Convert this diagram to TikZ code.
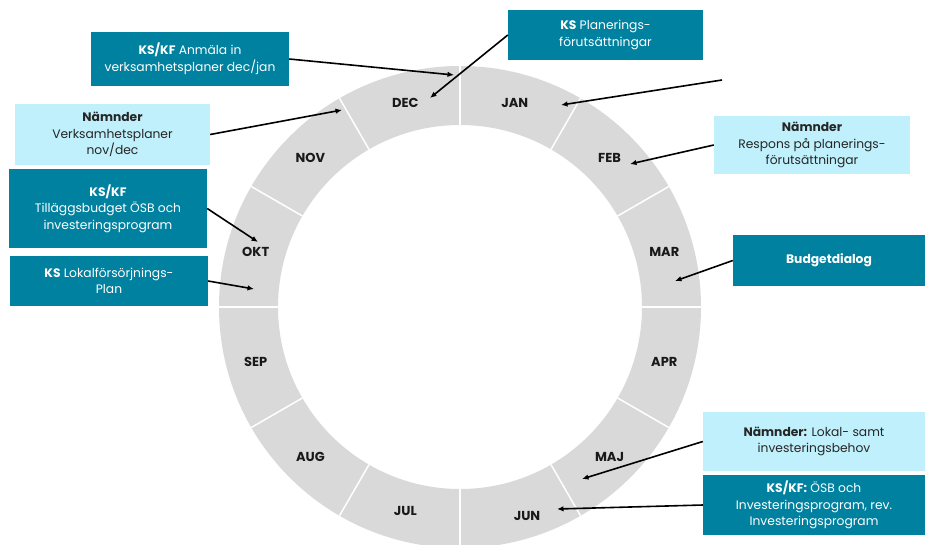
\documentclass[tikz,border=0pt]{standalone}
\usepackage{fontspec}
\setmainfont{Poppins}
\usetikzlibrary{arrows.meta,calc}
\definecolor{teal}{HTML}{00819F}
\definecolor{lightb}{HTML}{BFF0FB}
\definecolor{ringgray}{HTML}{D9D9D9}
\begin{document}
\begin{tikzpicture}[x=1pt,y=-1pt,
  darkbox/.style={fill=teal,text=white,align=center,inner sep=2pt,font=\fontsize{12.3}{16.5}\selectfont},
  lightbox/.style={fill=lightb,text=black!85,align=center,inner sep=2pt,font=\fontsize{12.3}{16.5}\selectfont},
  month/.style={font=\fontsize{13}{15}\selectfont\bfseries,text=black!90},
  conn/.style={draw=black,line width=1.6pt,-{Latex[length=6.5pt,width=5.5pt]}}]
\useasboundingbox (0,0) rectangle (925,544);
\fill[white] (0,0) rectangle (925,544);
\clip (0,0) rectangle (925,544);
\coordinate (C) at (460,307);
% ring
\fill[ringgray,even odd rule] (C) circle[radius=241pt] (C) circle[radius=182pt];
\foreach \a in {0,30,...,330}
  \draw[white,line width=1.5pt] ($(C)+(\a:182)$) -- ($(C)+(\a:241)$);
% month labels
\foreach \m [count=\i from 0] in {JAN,FEB,MAR,APR,MAJ}
  \node[month] (m\m) at ($(C)+({30*\i-75}:211.5)$) {\m};
\node[month] (mJUN) at (527,516) {JUN};
\foreach \m [count=\i from 6] in {JUL,AUG,SEP,OKT,NOV,DEC}
  \node[month] (m\m) at ($(C)+({30*\i-75}:211.5)$) {\m};
% boxes
\node[darkbox,minimum width=198pt,minimum height=54pt] (b1) at (190,59) {\textbf{KS/KF} Anmäla in\\verksamhetsplaner dec/jan};
\node[lightbox,minimum width=195pt,minimum height=61pt] (b2) at (112.5,134.5) {\textbf{Nämnder}\\Verksamhetsplaner\\nov/dec};
\node[darkbox,minimum width=198pt,minimum height=79pt] (b3) at (108,208.5) {\textbf{KS/KF}\\Tilläggsbudget ÖSB och\\investeringsprogram};
\node[darkbox,minimum width=198pt,minimum height=50pt] (b4) at (109,281) {\textbf{KS} Lokalförsörjnings-\\Plan};
\node[darkbox,minimum width=195pt,minimum height=50pt] (b5) at (605.5,35) {\textbf{KS} Planerings-\\förutsättningar};
\node[lightbox,minimum width=196pt,minimum height=58pt] (b6) at (812,145) {\textbf{Nämnder}\\Respons på planerings-\\förutsättningar};
\node[darkbox,minimum width=192pt,minimum height=51pt] (b7) at (829,260.5) {\textbf{Budgetdialog}};
\node[lightbox,minimum width=222pt,minimum height=59pt] (b8) at (814,441.5) {\textbf{Nämnder:} Lokal- samt\\investeringsbehov};
\node[darkbox,minimum width=222pt,minimum height=60pt] (b9) at (814,505) {\textbf{KS/KF:} ÖSB och\\Investeringsprogram, rev.\\Investeringsprogram};
% arrow targets
\coordinate (t1) at (454,75);
\coordinate (t2) at (342,110);
\coordinate (t3) at (258,242);
\coordinate (t4) at (254,289);
\coordinate (t5) at (430,98);
\coordinate (t6) at (630,164);
\coordinate (t7) at (675,281);
\coordinate (t8) at (582,479);
\coordinate (t9) at (557,509);
\coordinate (tj) at (561,105);
\coordinate (sj) at (722,80);
% connectors
\draw[conn] (b1.east) -- (t1);
\draw[conn] (b2.east) -- (t2);
\draw[conn] (b3.east) -- (t3);
\draw[conn] (b4.east) -- (t4);
\draw[conn] (b5.west) -- (t5);
\draw[conn] (b6.west) -- (t6);
\draw[conn] (b7.west) -- (t7);
\draw[conn] (b8.west) -- (t8);
\draw[conn] (b9.west) -- (t9);
\draw[conn] (sj) -- (tj);
\end{tikzpicture}
\end{document}
